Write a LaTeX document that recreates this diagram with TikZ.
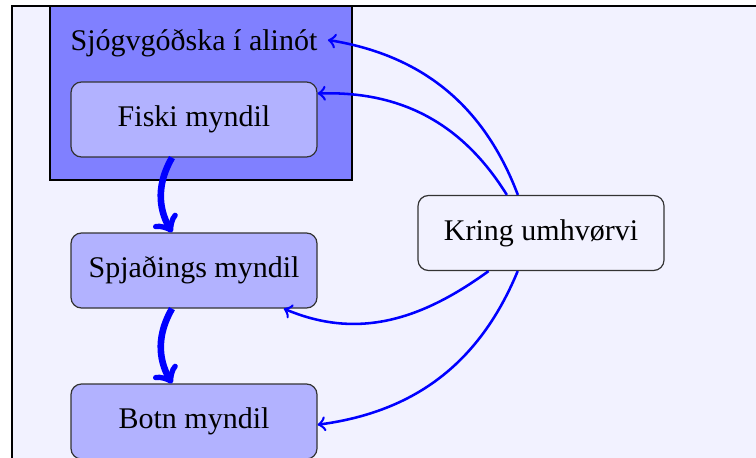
\documentclass[tikz,border=0pt]{standalone}
\usepackage{fontspec}
\setmainfont{Liberation Serif}
\begin{document}
\begin{tikzpicture}[x=0.33333pt,y=0.33333pt,
  box/.style={draw=black!80, fill=blue!30, rounded corners=3.5pt, minimum width=82pt, minimum height=25pt, inner sep=0pt},
  envbox/.style={box, fill=blue!5},
  group/.style={draw=black, line width=0.6pt, fill=blue!50, minimum width=100.67pt, minimum height=58pt, inner sep=0pt, outer sep=0pt, anchor=north west},
  bigarrow/.style={->, blue, line width=2.2pt},
  thinarrow/.style={-{To[scale=1.15]}, blue, line width=0.85pt}]
\useasboundingbox (0,0) rectangle (756,-457);
\clip (0,0) rectangle (756,-457);
\fill[blue!5] (12,-6) rectangle (800,-500);
\draw[line width=0.5pt] (800,-6) -- (12,-6) -- (12,-500);
\node[group] (grp) at (50,-6) {};
\node (title) at (194,-43) {Sjógvgóðska í alinót};
\node[box] (fiski) at (194,-119.5) {Fiski myndil};
\node[box] (spj) at (194,-270.5) {Spjaðings myndil};
\node[box] (botn) at (194,-421.5) {Botn myndil};
\node[envbox] (kring) at (541,-233) {Kring umhvørvi};
\draw[bigarrow] (fiski) to[bend right] (spj);
\draw[bigarrow] (spj) to[bend right] (botn);
\draw[thinarrow] (kring) to[bend right] (title);
\draw[thinarrow] (kring) to[bend right] (fiski);
\draw[thinarrow] (kring) to[out=216,in=-23] (spj);
\draw[thinarrow] (kring) to[bend left] (botn);
\end{tikzpicture}
\end{document}
